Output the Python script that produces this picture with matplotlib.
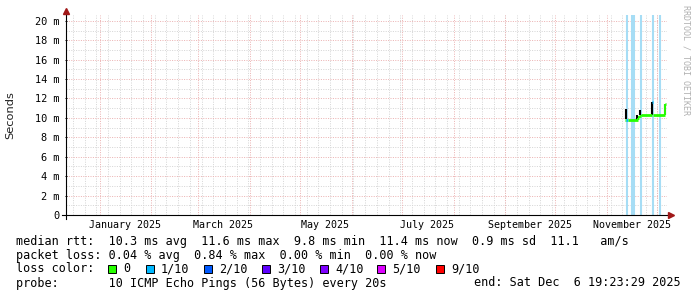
import matplotlib
matplotlib.use("Agg")
from datetime import datetime
import matplotlib.pyplot as plt
import matplotlib.dates as mdates
from matplotlib.lines import Line2D
from matplotlib.patches import Rectangle

# time frame of the graph
end_time = datetime(2025, 12, 6, 19, 23, 29)
span_days = 360

# median rtt (ms), day offsets from end, loss level index
med_days = [-25.1, -24.6, -23.4, -17.6, -16.6, -15.8, -8.9, -8.5, -1.4]
med_ms = [9.8, 9.8, 9.8, 10.0, 10.2, 10.3, 11.6, 10.3, 11.4]
med_loss = [0, 1, 0, 0, 0, 0, 1, 0, 0]
med_last = -0.6

# smoke (ping spread) bars
smoke_days = [-24.4, -17.8, -16.0, -8.7, -1.3]
smoke_lo = [9.9, 9.8, 10.3, 10.35, 10.35]
smoke_hi = [10.95, 10.25, 10.85, 11.65, 11.45]

# light blue full-height marks
mark_days = [-24.2, -21.0, -19.8, -15.4, -8.6, -4.0]

loss_labels = ["0", "1/10", "2/10", "3/10", "4/10", "5/10", "9/10"]
loss_colors = ["#26ff00", "#00b8ff", "#0059ff", "#5e00ff", "#7e00ff", "#dd00ff", "#ff0000"]

month_labels = ["January 2025", "March 2025", "May 2025", "July 2025",
                "September 2025", "November 2025"]
month_label_num = [1, 3, 5, 7, 9, 11]

y_ticks = [0, 2, 4, 6, 8, 10, 12, 14, 16, 18, 20]

stats_lines = [
    "median rtt:  10.3 ms avg  11.6 ms max  9.8 ms min  11.4 ms now  0.9 ms sd  11.1   am/s",
    "packet loss: 0.04 % avg  0.84 % max  0.00 % min  0.00 % now",
    "loss color:",
    "probe:       10 ICMP Echo Pings (56 Bytes) every 20s",
]
end_text = "end: Sat Dec  6 19:23:29 2025"

W, H = 697, 297
mono = "DejaVu Sans Mono"
mgrid = "#ecb4b4"
grid = "#d6d6d6"
arrow = "#a01818"

fig = plt.figure(figsize=(W / 100, H / 100), dpi=100)
fig.patch.set_facecolor("white")
ax = fig.add_axes([66 / W, (H - 215) / H, (667 - 66) / W, (215 - 15) / H])

end_num = mdates.date2num(end_time)
start_num = end_num - span_days
start_dt = mdates.num2date(start_num)
end_dt = mdates.num2date(end_num)
ax.set_xlim(start_num, end_num)
ax.set_ylim(0, 20.6)

for s in ax.spines.values():
    s.set_visible(False)

# grid
for d in mdates.WeekdayLocator(byweekday=mdates.MO).tick_values(start_dt, end_dt):
    if start_num < d < end_num:
        ax.axvline(d, color=grid, lw=0.72, ls=(0, (1, 1.4)), zorder=1)
for d in mdates.MonthLocator().tick_values(start_dt, end_dt):
    if start_num < d < end_num:
        ax.axvline(d, color=mgrid, lw=0.72, ls=(0, (1, 1.4)), zorder=1.5)
for v in range(1, 21):
    ax.axhline(v, color=mgrid if v % 2 == 0 else grid, lw=0.72,
               ls=(0, (1, 1.4)), zorder=1.5 if v % 2 == 0 else 1)

ax.set_yticks(y_ticks)
ax.set_yticklabels(["0"] + ["%d m" % v for v in y_ticks[1:]], fontfamily=mono, fontsize=7.4)
ax.tick_params(axis="y", length=2, width=0.7, direction="inout", pad=4)
ax.set_xticks([])
ax.set_ylabel("Seconds", fontsize=8.2, labelpad=14, color="#222222")

for lab, m in zip(month_labels, month_label_num):
    x = mdates.date2num(datetime(2025, m, 16))
    ax.text(x, -0.027, lab, transform=ax.get_xaxis_transform(), ha="center", va="top",
            fontfamily=mono, fontsize=7.2)

# light blue marks
for d in mark_days:
    ax.axvline(end_num + d, color="#a6ddf5", lw=1.5, zorder=2)

# smoke
ax.vlines([end_num + d for d in smoke_days], smoke_lo, smoke_hi, color="black", lw=1.5, zorder=3)

# median line coloured by loss
for i in range(len(med_days)):
    x0 = end_num + med_days[i]
    x1 = end_num + (med_days[i + 1] if i + 1 < len(med_days) else med_last)
    c = loss_colors[med_loss[i]]
    ax.hlines(med_ms[i], x0, x1, color=c, lw=2.0, zorder=4)
    if i + 1 < len(med_days) and med_loss[i + 1] == med_loss[i]:
        ax.vlines(x1, med_ms[i], med_ms[i + 1], color=c, lw=1.4, zorder=4)

# axes with arrows
fig.add_artist(Line2D([62 / W, 670 / W], [(H - 215) / H] * 2, color="black", lw=0.8))
fig.add_artist(Line2D([66 / W] * 2, [(H - 219) / H, (H - 12) / H], color="black", lw=0.8))
fig.add_artist(Line2D([671 / W], [(H - 215) / H], marker=">", ms=4, color=arrow, lw=0))
fig.add_artist(Line2D([66 / W], [(H - 11) / H], marker="^", ms=4, color=arrow, lw=0))

fig.text(686 / W, 1 - 5 / H, "RRDTOOL / TOBI OETIKER", rotation=270, ha="center", va="top",
         fontfamily=mono, fontsize=6.0, color="#b0b0b0")

# legend / stats
line_y = [241, 255, 269, 283]
for txt, y in zip(stats_lines, line_y):
    fig.text(16 / W, 1 - y / H, txt, fontfamily=mono, fontsize=8.5, va="center", ha="left")
fig.text(681 / W, 1 - 283 / H, end_text, fontfamily=mono, fontsize=8.5, va="center", ha="right")

box_x = [108, 146, 204, 262, 320, 377, 436]
for bx, col, lab in zip(box_x, loss_colors, loss_labels):
    fig.add_artist(Rectangle((bx / W, 1 - 273 / H), 8 / W, 8 / H, transform=fig.transFigure,
                             facecolor=col, edgecolor="black", lw=0.7))
    fig.text((bx + 15) / W, 1 - 269 / H, lab, fontfamily=mono, fontsize=8.5, va="center", ha="left")

fig.savefig("out.png", dpi=100)
